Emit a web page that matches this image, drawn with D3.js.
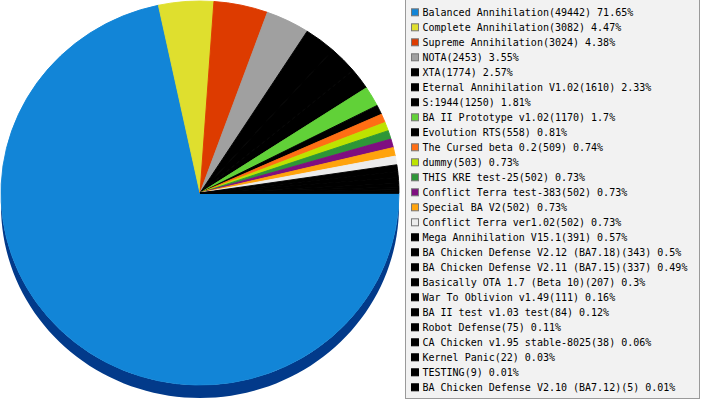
<!DOCTYPE html>
<html>
<head>
<meta charset="utf-8">
<script src="https://cdn.jsdelivr.net/npm/d3@7"></script>
<style>
  html, body { margin: 0; padding: 0; background: #fff; }
  svg { display: block; }
</style>
</head>
<body>
<div id="chart"></div>
<script>
// game names, play counts and shown percentages
const names = [
  'Balanced Annihilation', 'Complete Annihilation', 'Supreme Annihilation', 'NOTA', 'XTA',
  'Eternal Annihilation V1.02', 'S:1944', 'BA II Prototype v1.02', 'Evolution RTS',
  'The Cursed beta 0.2', 'dummy', 'THIS KRE test-25', 'Conflict Terra test-383',
  'Special BA V2', 'Conflict Terra ver1.02', 'Mega Annihilation V15.1',
  'BA Chicken Defense V2.12 (BA7.18)', 'BA Chicken Defense V2.11 (BA7.15)',
  'Basically OTA 1.7 (Beta 10)', 'War To Oblivion v1.49', 'BA II test v1.03 test',
  'Robot Defense', 'CA Chicken v1.95 stable-8025', 'Kernel Panic', 'TESTING',
  'BA Chicken Defense V2.10 (BA7.12)'
];
const counts = [
  49442, 3082, 3024, 2453, 1774, 1610, 1250, 1170, 558, 509, 503, 502, 502,
  502, 502, 391, 343, 337, 207, 111, 84, 75, 38, 22, 9, 5
];
const percents = [
  '71.65', '4.47', '4.38', '3.55', '2.57', '2.33', '1.81', '1.7', '0.81', '0.74',
  '0.73', '0.73', '0.73', '0.73', '0.73', '0.57', '0.5', '0.49', '0.3', '0.16',
  '0.12', '0.11', '0.06', '0.03', '0.01', '0.01'
];
const colors = [
  '#1285d7', '#dfdf2e', '#dd3b00', '#a0a0a0', '#000000', '#000000', '#000000',
  '#61d138', '#000000', '#ff6e14', '#bde300', '#2e9637', '#7f0e80', '#ffa30c',
  '#ececec', '#000000', '#000000', '#000000', '#000000', '#000000', '#000000',
  '#000000', '#000000', '#000000', '#000000', '#000000'
];

const W = 701, H = 400;
const cx = 200, cy = 193, rx = 199, ry = 192, depth = 13;

const svg = d3.select('#chart').append('svg')
  .attr('width', W).attr('height', H);

const rows = names.map((n, i) => ({ name: n, count: counts[i], pct: percents[i], color: colors[i] }));

const pie = d3.pie().sort(null).value(d => d.count)
  .startAngle(Math.PI / 2).endAngle(Math.PI / 2 + 2 * Math.PI);
const slices = pie(rows);

function sideColor(c) {
  if (c === '#1285d7') return '#023a8a';
  return d3.color(c).darker(1.2).formatHex();
}

// rim point in screen space (angle clockwise from north)
function rim(a, dy) {
  return [cx + rx * Math.sin(a), cy - ry * Math.cos(a) + dy];
}

// 3d side, only the front half (lower) is visible
const side = svg.append('g');
slices.forEach(s => {
  const a0 = Math.max(s.startAngle, Math.PI / 2);
  const a1 = Math.min(s.endAngle, 3 * Math.PI / 2);
  if (a1 <= a0) return;
  const n = 80, pts = [];
  for (let k = 0; k <= n; k++) pts.push(rim(a0 + (a1 - a0) * k / n, 0));
  for (let k = n; k >= 0; k--) pts.push(rim(a0 + (a1 - a0) * k / n, depth));
  side.append('path')
    .attr('d', 'M' + pts.map(p => p.join(',')).join('L') + 'Z')
    .attr('fill', sideColor(s.data.color));
});

// top face: circle arcs stretched into an ellipse
const arc = d3.arc().innerRadius(0).outerRadius(ry);
svg.append('g')
  .attr('transform', `translate(${cx},${cy}) scale(${rx / ry},1)`)
  .selectAll('path')
  .data(slices)
  .enter()
  .append('path')
  .attr('d', arc)
  .attr('fill', d => d.data.color)
  .attr('stroke', d => d.data.color)
  .attr('stroke-width', 0.9)
  .attr('stroke-linejoin', 'round');

// legend
const lx = 405, ly = 0, lw = 294, lh = 399;
const legend = svg.append('g');
legend.append('rect')
  .attr('x', lx + 0.5).attr('y', ly - 0.5)
  .attr('width', lw).attr('height', lh)
  .attr('fill', '#f2f2f2')
  .attr('stroke', '#9a9a9a')
  .attr('stroke-width', 1);

const rowY = d3.scalePoint().domain(d3.range(rows.length)).range([12.3, 387.3]);

const items = legend.selectAll('.item')
  .data(rows)
  .enter()
  .append('g')
  .attr('class', 'item')
  .attr('transform', (d, i) => `translate(0,${rowY(i)})`);

items.append('rect')
  .attr('x', 411.5).attr('y', -3.5)
  .attr('width', 7).attr('height', 7)
  .attr('fill', d => d.color)
  .attr('stroke', d => d.color === '#000000' ? '#000' : '#777')
  .attr('stroke-width', 1);

items.append('text')
  .attr('x', 422.5)
  .attr('y', 3.6)
  .attr('font-family', '"DejaVu Sans Mono", monospace')
  .attr('font-size', '10px')
  .attr('fill', '#000')
  .text(d => `${d.name}(${d.count}) ${d.pct}%`);
</script>
</body>
</html>
